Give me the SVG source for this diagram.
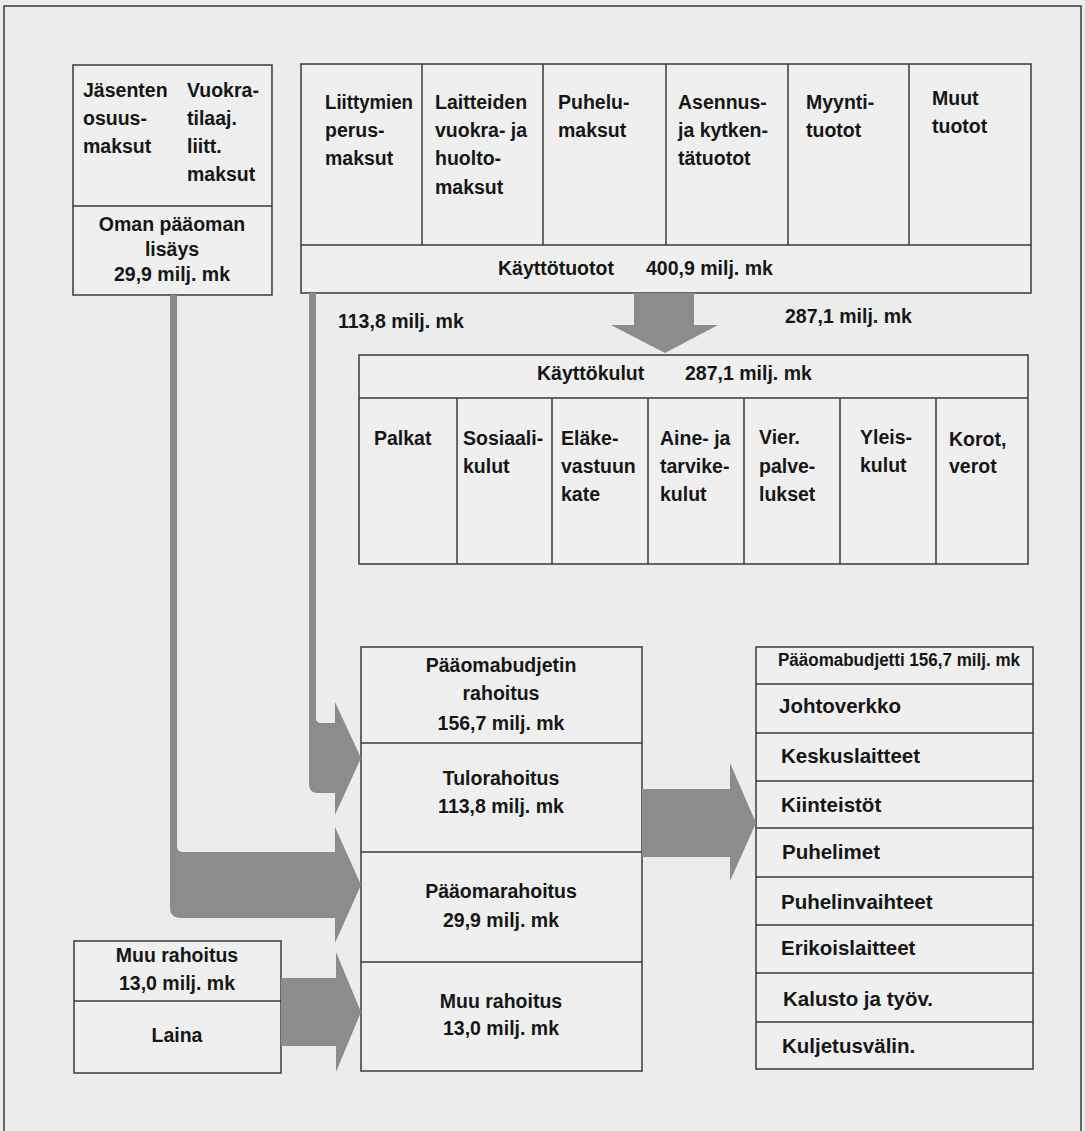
<svg xmlns="http://www.w3.org/2000/svg" width="1085" height="1131" viewBox="0 0 1085 1131">
<style>
.bg{fill:#ececec}
.box{fill:#efefef;stroke:#3a3a3a;stroke-width:1.5}
.ln{stroke:#3a3a3a;stroke-width:1.5;fill:none}
.t{font-family:"Liberation Sans",Arial,sans-serif;font-weight:bold;font-size:19.5px;fill:#161616}
.c{text-anchor:middle}
.arr{fill:#8c8c8c}
</style>
<rect class="bg" x="0" y="0" width="1085" height="1131"/>
<path class="ln" d="M4,1131 V6 H1081 V1131"/>

<g id="oman-paaoman-lisays">
<rect class="box" x="73" y="65" width="199" height="230"/>
<line class="ln" x1="73" y1="206" x2="272" y2="206"/>
<text class="t" x="83" y="97">Jäsenten</text>
<text class="t" x="83" y="125">osuus-</text>
<text class="t" x="83" y="153">maksut</text>
<text class="t" x="187" y="97">Vuokra-</text>
<text class="t" x="187" y="125">tilaaj.</text>
<text class="t" x="187" y="153">liitt.</text>
<text class="t" x="187" y="181">maksut</text>
<text class="t c" x="172" y="231">Oman pääoman</text>
<text class="t c" x="172" y="256">lisäys</text>
<text class="t c" x="172" y="281">29,9 milj. mk</text>
</g>

<g id="kayttotuotot">
<rect class="box" x="301" y="64" width="730" height="229"/>
<line class="ln" x1="301" y1="245" x2="1031" y2="245"/>
<line class="ln" x1="422" y1="64" x2="422" y2="245"/>
<line class="ln" x1="543" y1="64" x2="543" y2="245"/>
<line class="ln" x1="666" y1="64" x2="666" y2="245"/>
<line class="ln" x1="788" y1="64" x2="788" y2="245"/>
<line class="ln" x1="909" y1="64" x2="909" y2="245"/>
<text class="t" x="325" y="109" textLength="88" lengthAdjust="spacingAndGlyphs">Liittymien</text>
<text class="t" x="325" y="137">perus-</text>
<text class="t" x="325" y="165">maksut</text>
<text class="t" x="435" y="109">Laitteiden</text>
<text class="t" x="435" y="137">vuokra- ja</text>
<text class="t" x="435" y="165">huolto-</text>
<text class="t" x="435" y="194">maksut</text>
<text class="t" x="558" y="109">Puhelu-</text>
<text class="t" x="558" y="137">maksut</text>
<text class="t" x="678" y="109">Asennus-</text>
<text class="t" x="678" y="137">ja kytken-</text>
<text class="t" x="678" y="165">tätuotot</text>
<text class="t" x="806" y="109">Myynti-</text>
<text class="t" x="806" y="137">tuotot</text>
<text class="t" x="932" y="105">Muut</text>
<text class="t" x="932" y="133">tuotot</text>
<text class="t" x="498" y="275">Käyttötuotot</text>
<text class="t" x="646" y="275">400,9 milj. mk</text>
</g>

<g id="kayttokulut">
<rect class="box" x="359" y="355" width="669" height="209"/>
<line class="ln" x1="359" y1="398" x2="1028" y2="398"/>
<line class="ln" x1="457" y1="398" x2="457" y2="564"/>
<line class="ln" x1="552" y1="398" x2="552" y2="564"/>
<line class="ln" x1="648" y1="398" x2="648" y2="564"/>
<line class="ln" x1="744" y1="398" x2="744" y2="564"/>
<line class="ln" x1="840" y1="398" x2="840" y2="564"/>
<line class="ln" x1="936" y1="398" x2="936" y2="564"/>
<text class="t" x="537" y="380">Käyttökulut</text>
<text class="t" x="685" y="380">287,1 milj. mk</text>
<text class="t" x="374" y="445">Palkat</text>
<text class="t" x="463" y="445">Sosiaali-</text>
<text class="t" x="463" y="473">kulut</text>
<text class="t" x="561" y="445">Eläke-</text>
<text class="t" x="561" y="473">vastuun</text>
<text class="t" x="561" y="501">kate</text>
<text class="t" x="660" y="445">Aine- ja</text>
<text class="t" x="660" y="473">tarvike-</text>
<text class="t" x="660" y="501">kulut</text>
<text class="t" x="759" y="444">Vier.</text>
<text class="t" x="759" y="473">palve-</text>
<text class="t" x="759" y="501">lukset</text>
<text class="t" x="860" y="444">Yleis-</text>
<text class="t" x="860" y="472">kulut</text>
<text class="t" x="949" y="446">Korot,</text>
<text class="t" x="949" y="473">verot</text>
</g>

<g id="paaomabudjetin-rahoitus">
<rect class="box" x="361" y="647" width="281" height="424"/>
<line class="ln" x1="361" y1="743" x2="642" y2="743"/>
<line class="ln" x1="361" y1="852" x2="642" y2="852"/>
<line class="ln" x1="361" y1="962" x2="642" y2="962"/>
<text class="t c" x="501" y="672">Pääomabudjetin</text>
<text class="t c" x="501" y="700">rahoitus</text>
<text class="t c" x="501" y="730">156,7 milj. mk</text>
<text class="t c" x="501" y="785">Tulorahoitus</text>
<text class="t c" x="501" y="813">113,8 milj. mk</text>
<text class="t c" x="501" y="898">Pääomarahoitus</text>
<text class="t c" x="501" y="927">29,9 milj. mk</text>
<text class="t c" x="501" y="1008">Muu rahoitus</text>
<text class="t c" x="501" y="1035">13,0 milj. mk</text>
</g>

<g id="paaomabudjetti">
<rect class="box" x="756" y="647" width="277" height="422"/>
<line class="ln" x1="756" y1="684" x2="1033" y2="684"/>
<line class="ln" x1="756" y1="733" x2="1033" y2="733"/>
<line class="ln" x1="756" y1="781" x2="1033" y2="781"/>
<line class="ln" x1="756" y1="828" x2="1033" y2="828"/>
<line class="ln" x1="756" y1="877" x2="1033" y2="877"/>
<line class="ln" x1="756" y1="925" x2="1033" y2="925"/>
<line class="ln" x1="756" y1="973" x2="1033" y2="973"/>
<line class="ln" x1="756" y1="1022" x2="1033" y2="1022"/>
<text class="t" x="778" y="666" style="font-size:18px" textLength="242" lengthAdjust="spacingAndGlyphs">Pääomabudjetti 156,7 milj. mk</text>
<text class="t" x="779" y="713" style="font-size:20.5px">Johtoverkko</text>
<text class="t" x="781" y="763" style="font-size:20.5px">Keskuslaitteet</text>
<text class="t" x="781" y="812" style="font-size:20.5px">Kiinteistöt</text>
<text class="t" x="782" y="859" style="font-size:20.5px">Puhelimet</text>
<text class="t" x="781" y="909" style="font-size:20.5px">Puhelinvaihteet</text>
<text class="t" x="781" y="955" style="font-size:20.5px">Erikoislaitteet</text>
<text class="t" x="783" y="1006" style="font-size:20.5px">Kalusto ja työv.</text>
<text class="t" x="782" y="1053" style="font-size:20.5px">Kuljetusvälin.</text>
</g>

<g id="muu-rahoitus">
<rect class="box" x="74" y="941" width="207" height="132"/>
<line class="ln" x1="74" y1="1001" x2="281" y2="1001"/>
<text class="t c" x="177" y="962">Muu rahoitus</text>
<text class="t c" x="177" y="990">13,0 milj. mk</text>
<text class="t c" x="177" y="1042">Laina</text>
</g>

<g id="connectors">
<path class="arr" d="M634,293 H694 V325 H718 L665,353 L611,325 H634 Z"/>
<path class="arr" d="M309,293 H316 V718 Q316,723 321,723 H335 V702 L361,758 L335,815 V793 H318 Q309,793 309,784 Z"/>
<path class="arr" d="M170,295 H177 V846 Q177,852 183,852 H335 V827 L361,885 L335,943 V918 H181 Q170,918 170,907 Z"/>
<path class="arr" d="M281,978 H336 V952 L361,1012 L336,1072 V1046 H281 Z"/>
<path class="arr" d="M642,789 H730 V763 L756,823 L730,881 V857 H642 Z"/>
<text class="t" x="338" y="328">113,8 milj. mk</text>
<text class="t" x="785" y="323">287,1 milj. mk</text>
</g>
</svg>
